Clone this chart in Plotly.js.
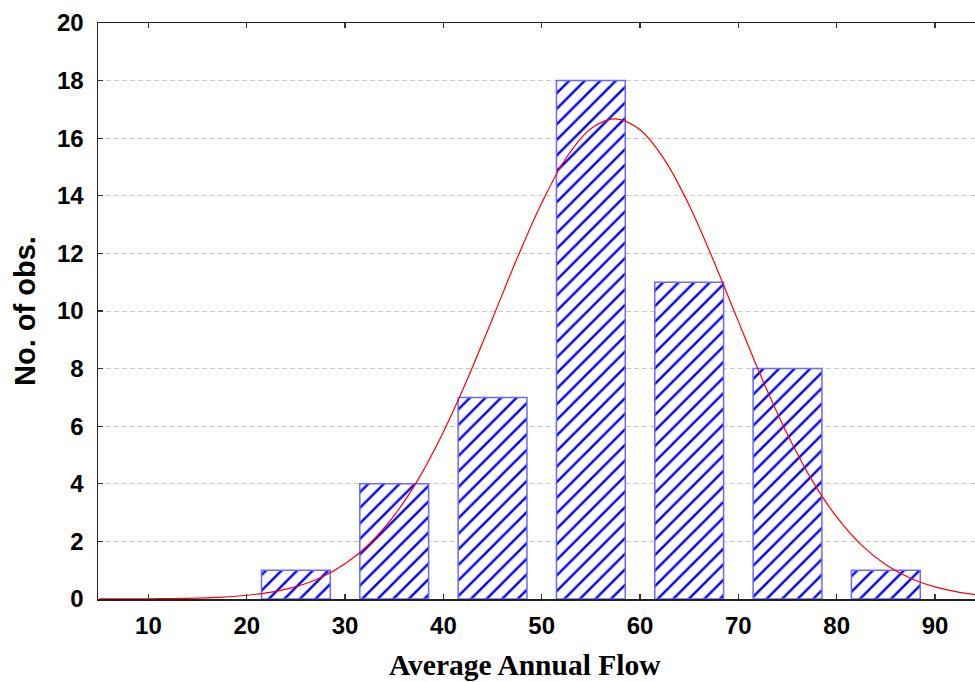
<!DOCTYPE html>
<html>
<head>
<meta charset="utf-8">
<script src="https://cdn.plot.ly/plotly-3.0.1.min.js"></script>
<style>
html,body{margin:0;padding:0;background:#fff;}
#chart{width:975px;height:682px;}
</style>
</head>
<body>
<div id="chart"></div>
<script>
// Histogram bins (centres) and counts
const binCenters = [25, 35, 45, 55, 65, 75, 85];
const counts = [1, 4, 7, 18, 11, 8, 1];

// Fitted normal curve
const curveX = [5, 7.5, 10, 12.5, 15, 17.5, 20, 22.5, 25, 27.5, 30, 32.5, 35, 37.5, 40, 42.5, 45, 47.5, 50, 52.5, 55, 57.5, 60, 62.5, 65, 67.5, 70, 72.5, 75, 77.5, 80, 82.5, 85, 87.5, 90, 92.5, 95];
const curveY = [0.001, 0.003, 0.007, 0.015, 0.032, 0.065, 0.13, 0.24, 0.43, 0.74, 1.22, 1.92, 2.90, 4.19, 5.80, 7.68, 9.74, 11.83, 13.75, 15.32, 16.33, 16.67, 16.29, 15.25, 13.67, 11.73, 9.64, 7.58, 5.71, 4.12, 2.85, 1.88, 1.19, 0.72, 0.42, 0.23, 0.12];

const xTicks = [10, 20, 30, 40, 50, 60, 70, 80, 90];
const yTicks = [0, 2, 4, 6, 8, 10, 12, 14, 16, 18, 20];
const xTitle = 'Average Annual Flow';
const yTitle = 'No. of obs.';

const bars = {
  type: 'bar',
  x: binCenters,
  y: counts,
  width: 7,
  marker: {
    color: '#ffffff',
    line: {color: '#6a6aff', width: 1.5},
    pattern: {shape: '/', fgcolor: '#0000ff', bgcolor: '#ffffff', size: 11, solidity: 0.22}
  },
  hoverinfo: 'x+y'
};

const curve = {
  type: 'scatter',
  mode: 'lines',
  x: curveX,
  y: curveY,
  line: {color: '#ff0000', width: 1.2, shape: 'spline'},
  hoverinfo: 'skip'
};

const tickFont = {family: 'Liberation Sans, Arial, sans-serif', size: 24, color: '#000', weight: 'bold'};

const layout = {
  width: 975,
  height: 682,
  margin: {l: 98, r: 0, t: 23, b: 83},
  paper_bgcolor: '#ffffff',
  plot_bgcolor: '#ffffff',
  showlegend: false,
  bargap: 0,
  xaxis: {
    range: [4.87, 94.07],
    tickvals: xTicks,
    ticktext: xTicks.map(String),
    ticks: 'inside',
    ticklen: 5,
    tickwidth: 1.2,
    tickcolor: '#333',
    showline: true,
    linecolor: '#222',
    linewidth: 1.5,
    mirror: 'ticks',
    showgrid: false,
    zeroline: false,
    tickfont: tickFont,
    ticklabelstandoff: 5
  },
  yaxis: {
    range: [0, 20],
    tickvals: yTicks,
    ticktext: yTicks.map(String),
    ticks: 'inside',
    ticklen: 5,
    tickwidth: 1.2,
    tickcolor: '#333',
    showline: true,
    linecolor: '#222',
    linewidth: 1.5,
    mirror: false,
    showgrid: true,
    gridcolor: '#c8c8c8',
    gridwidth: 1,
    griddash: '5px,3px',
    zeroline: false,
    tickfont: tickFont,
    ticklabelstandoff: 8,
    title: {
      text: yTitle,
      font: {family: 'Liberation Sans, Arial, sans-serif', size: 29, color: '#000', weight: 'bold'},
      standoff: 13
    }
  },
  annotations: [{
    text: '<b>' + xTitle + '</b>',
    xref: 'paper', yref: 'paper',
    x: 0.487, y: -0.115,
    xanchor: 'center', yanchor: 'middle',
    showarrow: false,
    font: {family: 'Liberation Serif, Times New Roman, serif', size: 29.5, color: '#000'}
  }]
};

Plotly.newPlot('chart', [bars, curve], layout, {displayModeBar: false, staticPlot: true});
</script>
</body>
</html>
